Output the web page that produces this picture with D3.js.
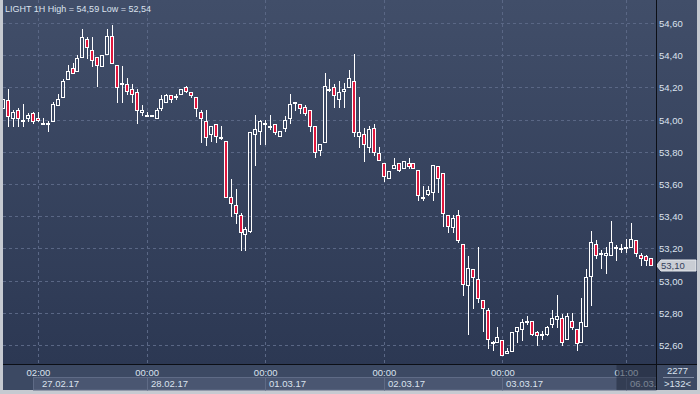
<!DOCTYPE html>
<html>
<head>
<meta charset="utf-8">
<script src="https://cdn.jsdelivr.net/npm/d3@7"></script>
<style>
  body { margin: 0; background: #c6cad1; }
  svg { display: block; font-family: 'Liberation Sans', Arial, sans-serif; }
</style>
</head>
<body>
<div id="vis"></div>
<script>

let svg, xScale, yScale

const title = 'LIGHT 1H High = 54,59 Low = 52,54'

// hourly candles
const opens = [
    54.07,54.12,54.01,54.06,54.00,54.01,54.04,54.01,53.98,53.97,
    53.99,54.09,54.14,54.25,54.32,54.30,54.39,54.50,54.43,54.39,
    54.33,54.41,54.52,54.34,54.22,54.22,54.19,54.17,54.05,54.03,
    54.02,54.01,54.07,54.11,54.15,54.145,54.16,54.20,54.17,54.14,
    54.05,53.99,53.91,53.97,53.89,53.87,53.52,53.47,53.41,53.29,
    53.31,53.91,53.93,53.97,53.96,53.97,53.90,53.95,54.01,54.11,
    54.10,54.08,54.06,53.96,53.81,53.86,54.19,54.20,54.13,54.18,
    54.20,54.24,53.90,53.91,53.83,53.95,53.79,53.73,53.64,53.70,
    53.73,53.70,53.73,53.73,53.69,53.52,53.54,53.55,53.71,53.67,
    53.41,53.33,53.41,53.23,52.97,53.07,53.01,52.88,52.82,52.62,
    52.62,52.63,52.55,52.56,52.69,52.70,52.75,52.75,52.68,52.67,
    52.67,52.73,52.76,52.77,52.64,52.75,52.70,52.62,52.72,53.03,
    53.23,53.17,53.16,53.16,53.21,53.20,53.21,53.21,53.25,53.16,
    53.15,53.14]
const highs = [
    54.13,54.19,54.06,54.07,54.10,54.04,54.045,54.05,54.01,53.99,
    54.11,54.16,54.25,54.34,54.35,54.40,54.56,54.51,54.51,54.39,
    54.40,54.56,54.59,54.34,54.33,54.26,54.22,54.19,54.09,54.05,
    54.03,54.07,54.15,54.16,54.15,54.16,54.19,54.21,54.17,54.14,
    54.06,54.06,53.96,53.97,53.96,53.87,53.63,53.57,53.42,53.33,
    53.92,54.03,54.00,54.00,54.03,53.97,53.93,54.02,54.16,54.11,
    54.10,54.09,54.06,53.96,53.85,54.29,54.25,54.22,54.24,54.23,
    54.31,54.41,54.14,53.95,53.96,53.97,53.83,53.73,53.68,53.76,
    53.73,53.74,53.76,53.73,53.69,53.59,53.59,53.72,53.71,53.67,
    53.41,53.41,53.44,53.23,53.15,53.07,53.21,52.88,52.83,52.625,
    52.71,52.63,52.58,52.68,52.71,52.76,52.78,52.75,52.69,52.69,
    52.72,52.82,52.91,52.79,52.80,52.80,52.70,52.89,53.07,53.31,
    53.25,53.19,53.21,53.37,53.22,53.23,53.26,53.36,53.25,53.17,
    53.16,53.14]
const lows = [
    54.07,53.96,53.96,53.96,53.96,53.99,53.98,53.99,53.97,53.93,
    53.99,54.09,54.14,54.25,54.29,54.30,54.39,54.38,54.33,54.21,
    54.33,54.41,54.35,54.11,54.11,54.16,54.11,53.98,54.03,54.02,
    54.02,54.01,54.06,54.11,54.11,54.13,54.16,54.17,54.14,54.02,
    53.86,53.84,53.87,53.86,53.88,53.52,53.40,53.36,53.19,53.19,
    53.30,53.72,53.85,53.85,53.94,53.91,53.90,53.93,53.98,54.06,
    54.04,54.03,53.93,53.77,53.78,53.86,54.18,54.08,54.08,54.08,
    54.20,53.90,53.83,53.74,53.80,53.78,53.75,53.62,53.64,53.70,
    53.68,53.70,53.70,53.70,53.50,53.50,53.53,53.50,53.55,53.34,
    53.30,53.30,53.24,52.91,52.67,52.83,52.87,52.69,52.58,52.57,
    52.62,52.54,52.55,52.56,52.62,52.63,52.73,52.66,52.60,52.64,
    52.66,52.71,52.71,52.60,52.64,52.70,52.57,52.62,52.72,52.85,
    53.14,53.08,53.05,53.16,53.13,53.18,53.18,53.21,53.15,53.10,
    53.10,53.10]
const closes = [
    54.13,54.02,54.05,54.01,54.00,54.03,53.99,54.00,53.98,53.98,
    54.10,54.13,54.24,54.30,54.29,54.38,54.51,54.45,54.37,54.34,
    54.40,54.52,54.35,54.20,54.23,54.18,54.16,54.06,54.06,54.03,
    54.03,54.06,54.13,54.15,54.13,54.145,54.19,54.18,54.15,54.07,
    54.01,53.89,53.96,53.90,53.89,53.52,53.48,53.42,53.30,53.32,
    53.92,53.94,53.99,53.98,53.96,53.92,53.93,54.00,54.10,54.11,
    54.07,54.04,53.96,53.80,53.85,54.21,54.19,54.15,54.17,54.19,
    54.26,53.92,53.92,53.85,53.94,53.80,53.75,53.65,53.68,53.72,
    53.69,53.74,53.71,53.70,53.53,53.52,53.56,53.72,53.64,53.42,
    53.34,53.39,53.25,52.98,53.08,53.02,52.89,52.83,52.64,52.62,
    52.65,52.54,52.56,52.68,52.71,52.74,52.75,52.67,52.66,52.66,
    52.71,52.77,52.78,52.62,52.78,52.71,52.61,52.74,53.02,53.24,
    53.16,53.17,53.17,53.24,53.21,53.20,53.21,53.26,53.17,53.14,
    53.13,53.10]

const priceTicks = [52.6, 52.8, 53.0, 53.2, 53.4, 53.6, 53.8, 54.0, 54.2, 54.4, 54.6]
const timeTicks = [7, 29, 53, 77, 101, 126]
const timeLabels = ['02:00', '00:00', '00:00', '00:00', '00:00', '01:00']
const dateStarts = [6, 29, 53, 77, 101, 126]
const dateLabels = ['27.02.17', '28.02.17', '01.03.17', '02.03.17', '03.03.17', '06.03.']
const lastPrice = 53.10
const barTotal = '2277'
const barShown = '>132<'

const width = 700, height = 394
const plot = {left: 3, right: 656, top: 0, bottom: 364, frame: 390}
const red = '#e0173d'
const textColor = '#dbe2ee'

const fmt = d3.formatLocale({decimal: ',', thousands: ' ', grouping: [3], currency: ['', '']}).format('.2f')

function createScales(){
    xScale = d3.scaleBand()
        .domain(d3.range(closes.length))
        .range([1.4, 653.6])
        .paddingInner(0)

    yScale = d3.scaleLinear()
        .domain([52.6, 54.6])
        .range([345.5, 23.5])
}

// pixel snapped positions
const cx = i => Math.floor(xScale(i) + xScale.bandwidth() / 2) + 0.5
const row = v => Math.floor(yScale(v))

function drawInitial(){
    svg = d3.select('#vis')
        .append('svg')
        .attr('width', width)
        .attr('height', height)

    let grad = svg.append('defs')
        .append('linearGradient')
        .attr('id', 'bg')
        .attr('x1', 0).attr('x2', 0).attr('y1', 0).attr('y2', 1)
    grad.append('stop').attr('offset', '0%').attr('stop-color', '#414e69')
    grad.append('stop').attr('offset', '100%').attr('stop-color', '#2c3853')

    svg.select('defs').append('clipPath')
        .attr('id', 'plotClip')
        .append('rect')
        .attr('x', plot.left).attr('y', plot.top)
        .attr('width', plot.right - plot.left)
        .attr('height', plot.bottom - plot.top)

    // outer frame and chart background
    svg.append('rect')
        .attr('width', width).attr('height', height)
        .attr('fill', '#c6cad1')
    svg.append('rect')
        .attr('x', plot.left).attr('y', 0)
        .attr('width', 697 - plot.left).attr('height', plot.bottom)
        .attr('fill', 'url(#bg)')

    // grid
    let grid = svg.append('g').attr('class', 'grid')
        .attr('stroke', '#5a6785')
        .attr('stroke-dasharray', '3,3')
    grid.selectAll('.h-line')
        .data(priceTicks)
        .join('line')
            .attr('class', 'h-line')
            .attr('x1', plot.left).attr('x2', plot.right)
            .attr('y1', d => row(d) + 0.5).attr('y2', d => row(d) + 0.5)
    grid.selectAll('.v-line')
        .data(timeTicks)
        .join('line')
            .attr('class', 'v-line')
            .attr('x1', d => cx(d)).attr('x2', d => cx(d))
            .attr('y1', plot.top).attr('y2', plot.bottom)

    // candles
    let candles = d3.range(closes.length).map(i => ({i: i, o: opens[i], h: highs[i], l: lows[i], c: closes[i]}))
    let g = svg.append('g')
        .attr('clip-path', 'url(#plotClip)')

    let bodyTop = d => row(Math.max(d.o, d.c)) + 0.5
    let bodyBottom = d => Math.max(row(Math.min(d.o, d.c)) + 0.5, bodyTop(d) + 1)

    g.selectAll('.wick-up')
        .data(candles)
        .join('line')
            .attr('class', 'wick-up')
            .attr('x1', d => cx(d.i)).attr('x2', d => cx(d.i))
            .attr('y1', d => row(d.h)).attr('y2', d => bodyTop(d))
            .attr('stroke', '#ffffff')
    g.selectAll('.wick-down')
        .data(candles)
        .join('line')
            .attr('class', 'wick-down')
            .attr('x1', d => cx(d.i)).attr('x2', d => cx(d.i))
            .attr('y1', d => bodyBottom(d)).attr('y2', d => row(d.l) + 1)
            .attr('stroke', '#ffffff')
    g.selectAll('.body')
        .data(candles)
        .join('rect')
            .attr('class', 'body')
            .attr('x', d => cx(d.i) - 2)
            .attr('width', 3)
            .attr('y', d => bodyTop(d))
            .attr('height', d => bodyBottom(d) - bodyTop(d))
            .attr('fill', d => d.c < d.o ? red : 'none')
            .attr('stroke', '#ffffff')
            .attr('stroke-width', 1)

    // title
    svg.append('text')
        .attr('x', 5).attr('y', 12.3)
        .attr('font-size', '9px')
        .attr('fill', textColor)
        .text(title)

    // price axis
    let yAxis = d3.axisRight(yScale)
        .tickValues(priceTicks)
        .tickFormat(fmt)
        .tickSize(0)
        .tickPadding(3)
    svg.append('g')
        .attr('class', 'y-axis')
        .attr('transform', `translate(${plot.right}, 0)`)
        .call(yAxis)
        .call(g => g.select('.domain').remove())
        .call(g => g.selectAll('text')
            .attr('font-family', 'Liberation Sans, Arial, sans-serif')
            .attr('font-size', '9.5px')
            .attr('fill', textColor))

    // last price marker
    let ly = row(lastPrice) + 0.5
    svg.append('path')
        .attr('d', `M${plot.right + 0.5},${ly} L${plot.right + 5},${ly - 5.5} L696,${ly - 5.5} L696,${ly + 5.5} L${plot.right + 5},${ly + 5.5} Z`)
        .attr('fill', '#c9cdd4')
        .attr('stroke', '#e6e9ee')
    svg.append('text')
        .attr('x', 661).attr('y', ly + 3.6)
        .attr('font-size', '9.5px')
        .attr('fill', '#34405a')
        .text(fmt(lastPrice))

    drawTimeBar()

    // separators
    svg.append('line')
        .attr('x1', plot.right + 0.5).attr('x2', plot.right + 0.5)
        .attr('y1', 0).attr('y2', plot.frame)
        .attr('stroke', '#0c0f16')
    svg.append('line')
        .attr('x1', plot.left).attr('x2', 697)
        .attr('y1', plot.bottom + 0.5).attr('y2', plot.bottom + 0.5)
        .attr('stroke', '#0c0f16')
}

function drawTimeBar(){
    let bar = svg.append('g').attr('class', 'time-bar')

    bar.append('rect')
        .attr('x', plot.left).attr('y', plot.bottom)
        .attr('width', 697 - plot.left).attr('height', plot.frame - plot.bottom)
        .attr('fill', '#3c4963')

    // day boxes
    bar.selectAll('.day-box')
        .data(dateStarts)
        .join('rect')
            .attr('class', 'day-box')
            .attr('x', d => cx(d))
            .attr('y', 377.5)
            .attr('width', (d, i) => (i < dateStarts.length - 1 ? cx(dateStarts[i + 1]) : plot.right) - cx(d))
            .attr('height', plot.frame - 377.5)
            .attr('fill', '#4a5671')
            .attr('stroke', '#5f6b86')

    let timeAxis = d3.axisBottom(xScale)
        .tickValues(timeTicks)
        .tickFormat(d => timeLabels[timeTicks.indexOf(d)])
        .tickSize(0)
        .tickPadding(5)
    bar.append('g')
        .attr('transform', `translate(0, ${plot.bottom})`)
        .call(timeAxis)
        .call(g => g.select('.domain').remove())
        .call(g => g.selectAll('text')
            .attr('font-family', 'Liberation Sans, Arial, sans-serif')
            .attr('font-size', '9.5px')
            .attr('fill', textColor))

    bar.selectAll('.date-label')
        .data(dateLabels)
        .join('text')
            .attr('class', 'date-label')
            .attr('x', (d, i) => cx(timeTicks[i]) + 3.5)
            .attr('y', 386.7)
            .attr('font-size', '9.5px')
            .attr('fill', textColor)
            .text(d => d)

    // current day shade
    bar.append('rect')
        .attr('x', cx(124))
        .attr('y', plot.bottom)
        .attr('width', plot.right - cx(124))
        .attr('height', plot.frame - plot.bottom)
        .attr('fill', '#1b2336')
        .attr('opacity', 0.5)

    // bar counter
    bar.append('rect')
        .attr('x', plot.right + 1).attr('y', plot.bottom)
        .attr('width', 697 - plot.right - 1).attr('height', plot.frame - plot.bottom)
        .attr('fill', '#3c4963')
    bar.append('text')
        .attr('x', 677.5).attr('y', 374.3)
        .attr('text-anchor', 'middle')
        .attr('font-size', '9.5px')
        .attr('fill', textColor)
        .text(barTotal)
    bar.append('line')
        .attr('x1', 663).attr('x2', 694)
        .attr('y1', 377.5).attr('y2', 377.5)
        .attr('stroke', '#7f8ba2')
    bar.append('text')
        .attr('x', 677.5).attr('y', 386.7)
        .attr('text-anchor', 'middle')
        .attr('font-size', '9.5px')
        .attr('fill', textColor)
        .text(barShown)
}

createScales()
drawInitial()

</script>
</body>
</html>
